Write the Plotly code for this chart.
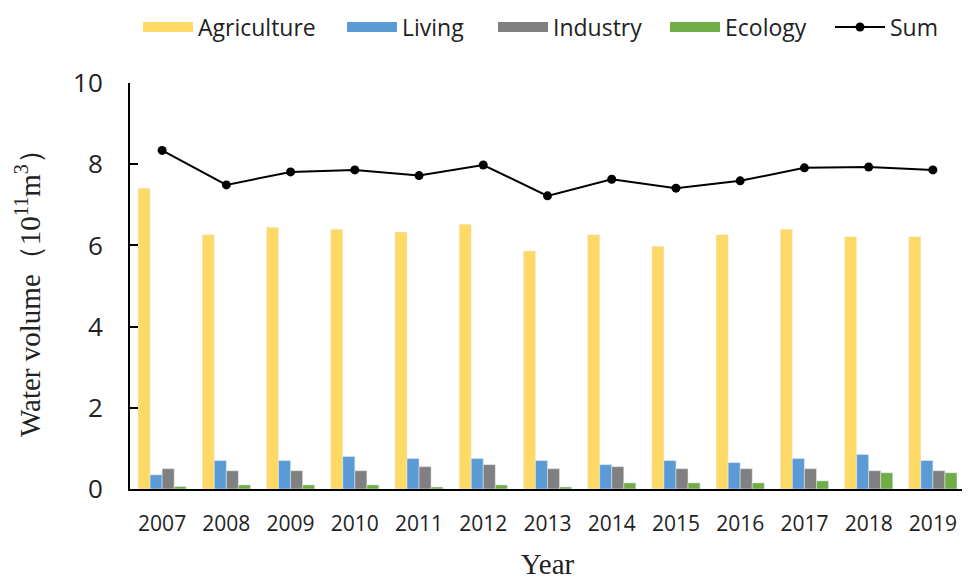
import plotly.graph_objects as go

years = ["2007", "2008", "2009", "2010", "2011", "2012", "2013",
         "2014", "2015", "2016", "2017", "2018", "2019"]
agriculture = [7.41, 6.26, 6.45, 6.40, 6.33, 6.52, 5.86, 6.26, 5.98, 6.26, 6.40, 6.21, 6.21]
living = [0.35, 0.70, 0.70, 0.80, 0.75, 0.75, 0.70, 0.60, 0.70, 0.65, 0.75, 0.85, 0.70]
industry = [0.50, 0.45, 0.45, 0.45, 0.55, 0.60, 0.50, 0.55, 0.50, 0.50, 0.50, 0.45, 0.45]
ecology = [0.06, 0.10, 0.10, 0.10, 0.05, 0.10, 0.05, 0.15, 0.15, 0.15, 0.20, 0.40, 0.40]
total = [8.34, 7.49, 7.81, 7.86, 7.72, 7.98, 7.22, 7.63, 7.41, 7.59, 7.91, 7.93, 7.86]

series = [("Agriculture", agriculture, "#FFD966"),
          ("Living", living, "#5B9BD5"),
          ("Industry", industry, "#808080"),
          ("Ecology", ecology, "#70AD47")]
legend_ids = ["legend", "legend2", "legend3", "legend4", "legend5"]
legend_x = [130, 334, 485, 657, 822]   # px from left of figure

fig = go.Figure()
for name, vals, col in series:
    fig.add_trace(go.Bar(x=years, y=vals, name=name, marker_color=col,
                         legendgroup=name, showlegend=False))
# legend swatches (wide rectangles like the reference)
for i, (name, vals, col) in enumerate(series):
    fig.add_trace(go.Scatter(x=[None], y=[None], name=name, mode="lines",
                             legendgroup=name, legend=legend_ids[i],
                             line=dict(color=col, width=14)))
fig.add_trace(go.Scatter(x=years, y=total, name="Sum", mode="lines+markers",
                         legend=legend_ids[4],
                         line=dict(color="black", width=2),
                         marker=dict(color="black", size=9)))

W, H = 970, 579
leg_common = dict(orientation="h", xref="container", yref="container",
                  xanchor="left", yanchor="middle", y=1 - 19 / H,
                  font=dict(size=23, family="Open Sans, sans-serif", color="#222"),
                  itemwidth=50, bgcolor="rgba(0,0,0,0)")
legends = {}
for lid, lx in zip(legend_ids, legend_x):
    legends[lid] = dict(leg_common, x=lx / W)

fig.update_layout(
    width=W, height=H,
    margin=dict(l=122, r=13, t=75, b=98),
    paper_bgcolor="white", plot_bgcolor="white",
    barmode="group", bargap=0.25, bargroupgap=0,
    font=dict(family="Open Sans, sans-serif", color="#222"),
    showlegend=True,
    xaxis=dict(
        automargin=False,
        range=[-0.5, len(years) - 0.5],
        showline=True, linecolor="black", linewidth=2,
        ticks="", ticklabelstandoff=15,
        tickfont=dict(size=21, family="Open Sans, sans-serif"),
        title=dict(text="Year", font=dict(size=29, family="Liberation Serif, Times New Roman, serif"),
                   standoff=17),
    ),
    yaxis=dict(
        automargin=False,
        range=[0, 10], dtick=2,
        showline=True, linecolor="black", linewidth=2,
        ticks="inside", ticklen=8, tickcolor="black", tickwidth=1.5,
        showgrid=False, zeroline=False, ticklabelstandoff=20,
        tickfont=dict(size=26, family="Open Sans, sans-serif"),
        title=dict(text="Water volume（10<sup>11</sup>m<sup>3</sup>）",
                   font=dict(size=29, family="Liberation Serif, Times New Roman, serif"),
                   standoff=24),
    ),
    **legends,
)

fig.write_html("out.html")
